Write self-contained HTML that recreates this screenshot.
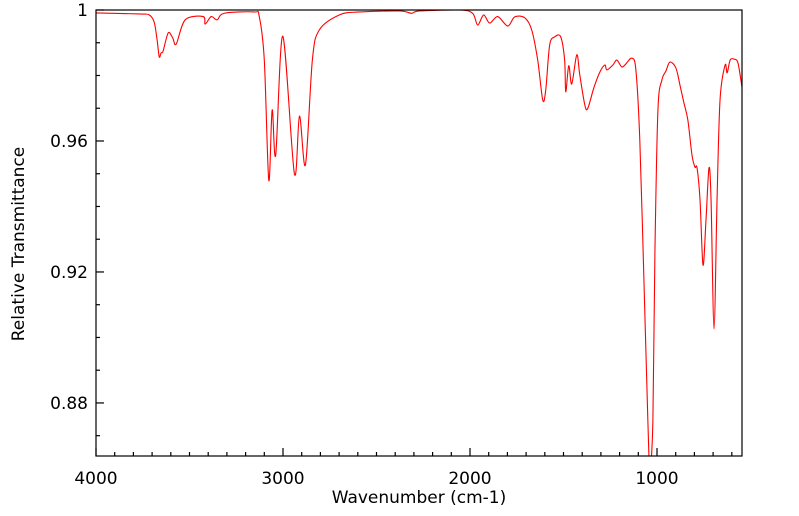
<!DOCTYPE html>
<html><head><meta charset="utf-8"><style>
body{margin:0;background:#fff;font-family:"DejaVu Sans","Liberation Sans",sans-serif}
svg{display:block}
</style></head><body>
<svg id="chart" width="799" height="516" xmlns="http://www.w3.org/2000/svg" font-family="DejaVu Sans, Liberation Sans, sans-serif">
<defs><clipPath id="clip"><rect x="96" y="10" width="646" height="446"/></clipPath></defs>
<g id="ticks"></g>
<g id="labels" font-size="17" fill="#000"></g>
<path id="line" fill="none" stroke="#ff0000" stroke-width="1.1" clip-path="url(#clip)"/>
<rect x="96" y="10" width="646" height="446" fill="none" stroke="#000" stroke-width="1.2"/>
<text x="419" y="503" font-size="17" text-anchor="middle">Wavenumber (cm-1)</text>
<text transform="translate(24,244) rotate(-90)" font-size="17" text-anchor="middle">Relative Transmittance</text>
</svg>
<script>
const wavenumbers=[4000,3770,3716,3689,3673,3662,3652,3641,3614,3590,3571,3523,3427,3416,3384,3352,3314,3154,3127,3100,3076,3058,3039,3001,2939,2912,2880,2843,2806,2698,2591,2377,2313,2270,2055,1986,1959,1927,1895,1852,1798,1761,1707,1670,1638,1611,1595,1574,1547,1515,1494,1488,1472,1456,1429,1413,1386,1370,1338,1306,1279,1268,1236,1215,1188,1167,1134,1113,1092,1070,1049,1038,1022,1011,995,974,952,931,899,877,856,835,813,797,786,770,754,738,722,711,695,679,663,636,625,609,588,567,545];
const transmittance=[0.9991,0.9988,0.9985,0.9963,0.9908,0.9857,0.9869,0.9875,0.993,0.9915,0.9896,0.997,0.998,0.9957,0.998,0.997,0.999,0.9994,0.998,0.9847,0.948,0.9695,0.9557,0.992,0.950,0.9676,0.9527,0.9847,0.9939,0.9985,0.9994,0.9997,0.999,0.9997,1.0,0.999,0.9954,0.9985,0.996,0.998,0.9951,0.9979,0.9976,0.9939,0.9847,0.9725,0.9756,0.9893,0.9918,0.9918,0.9847,0.975,0.983,0.9774,0.9863,0.9802,0.971,0.970,0.9762,0.981,0.9832,0.9817,0.9832,0.9847,0.9826,0.9835,0.9853,0.9817,0.9603,0.9176,0.8748,0.860,0.8748,0.9267,0.9695,0.9786,0.9814,0.9841,0.9823,0.977,0.9716,0.9664,0.9557,0.952,0.9518,0.942,0.9221,0.9359,0.9518,0.942,0.9026,0.942,0.9725,0.9832,0.9808,0.9847,0.985,0.9838,0.9762];
const yTickLabels=["1","0.96","0.92","0.88"];
const xTickLabels=["4000","3000","2000","1000"];
const X0=96,X1=742,Y0=10,Y1=456,WMAX=4000,WMIN=545.5,TMAX=1.0,TMIN=0.8638;
const sx=w=>X0+(WMAX-w)/(WMAX-WMIN)*(X1-X0);
const sy=t=>Y0+(TMAX-t)/(TMAX-TMIN)*(Y1-Y0);
const NS="http://www.w3.org/2000/svg";
const pts=wavenumbers.map((w,i)=>[sx(w),sy(transmittance[i])]);
let d="M"+pts[0][0].toFixed(2)+","+pts[0][1].toFixed(2);
for(let i=0;i<pts.length-1;i++){
  const p0=pts[Math.max(0,i-1)],p1=pts[i],p2=pts[i+1],p3=pts[Math.min(pts.length-1,i+2)];
  const k=0.16;
  const c1=[p1[0]+(p2[0]-p0[0])*k,p1[1]+(p2[1]-p0[1])*k];
  const c2=[p2[0]-(p3[0]-p1[0])*k,p2[1]-(p3[1]-p1[1])*k];
  d+="C"+c1[0].toFixed(2)+","+c1[1].toFixed(2)+" "+c2[0].toFixed(2)+","+c2[1].toFixed(2)+" "+p2[0].toFixed(2)+","+p2[1].toFixed(2);
}
document.getElementById("line").setAttribute("d",d);
const tg=document.getElementById("ticks"),lg=document.getElementById("labels");
function ln(x1,y1,x2,y2){const l=document.createElementNS(NS,"line");l.setAttribute("x1",x1);l.setAttribute("y1",y1);l.setAttribute("x2",x2);l.setAttribute("y2",y2);l.setAttribute("stroke","#000");l.setAttribute("stroke-width","1.2");


tg.appendChild(l);}
for(let k=0;k<=13;k++){const t=1-k*0.01;if(t<TMIN)break;const y=sy(t);ln(X0,y,X0+(k%4===0?8:4),y);}
for(let w=4000;w>=WMIN;w-=100){const x=sx(w);ln(x,Y1,x,Y1-(w%1000===0?8:4));}
yTickLabels.forEach(s=>{const t=document.createElementNS(NS,"text");t.textContent=s;t.setAttribute("x",88);t.setAttribute("y",sy(parseFloat(s))+6);t.setAttribute("text-anchor","end");


lg.appendChild(t);});
xTickLabels.forEach(s=>{const t=document.createElementNS(NS,"text");t.textContent=s;t.setAttribute("x",sx(parseFloat(s)));t.setAttribute("y",484);t.setAttribute("text-anchor","middle");


lg.appendChild(t);});
</script>
</body></html>
